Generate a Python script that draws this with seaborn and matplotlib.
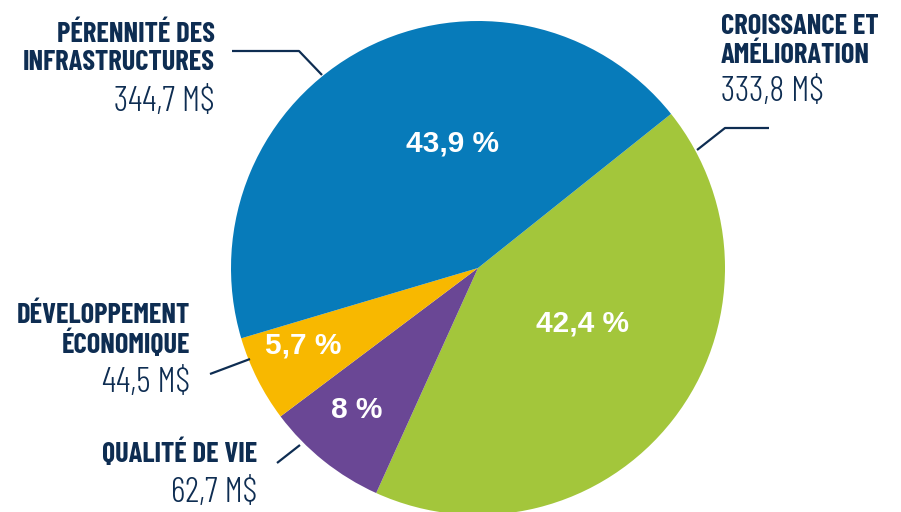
import numpy as np
import matplotlib
matplotlib.use("Agg")
import matplotlib.pyplot as plt
import seaborn as sns

# data (M$)
categories = ["Croissance et amélioration", "Qualité de vie",
              "Développement économique", "Pérennité des infrastructures"]
amounts = [333.8, 62.7, 44.5, 344.7]
pct_labels = ["42,4 %", "8 %", "5,7 %", "43,9 %"]
value_labels = ["333,8 M$", "62,7 M$", "44,5 M$", "344,7 M$"]
colors = ["#A3C63B", "#6A4795", "#F8B800", "#077BBA"]

navy = "#0E2D52"
sns.set_theme(style="white")
plt.rcParams["font.family"] = ["Barlow Condensed", "DejaVu Sans"]

W, H = 901, 512
CX, CY, R = 478, 268, 247

def px(x, y):
    # pixel position -> data coords (pie radius = 1)
    return (x - CX) / R, (CY - y) / R

fig = plt.figure(figsize=(W / 100, H / 100), dpi=100)
ax = fig.add_axes([0, 0, 1, 1])
ax.pie(amounts, colors=colors, startangle=38.6, counterclock=False,
       radius=1, wedgeprops=dict(linewidth=0))
ax.set_xlim(-CX / R, (W - CX) / R)
ax.set_ylim(-(H - CY) / R, CY / R)
ax.set_aspect("equal")
ax.axis("off")

# percentage labels inside the slices
pct_pos = [(583, 323), (357, 410), (303, 345), (452, 143)]
for lab, (x, y) in zip(pct_labels, pct_pos):
    ax.text(*px(x, y), lab, color="white", fontsize=21.5, fontweight="bold",
            ha="center", va="center", family=["Liberation Sans", "DejaVu Sans"])

# category labels
def label(lines, value, x, ys, ha):
    for line, y in zip(lines, ys[:-1]):
        ax.text(*px(x, y), line, color=navy, fontsize=20.5, fontweight="bold",
                ha=ha, va="baseline")
    ax.text(*px(x, ys[-1]), value, color=navy, fontsize=25.5, fontweight=300,
            ha=ha, va="baseline")

label(["PÉRENNITÉ DES", "INFRASTRUCTURES"], value_labels[3], 215, [42, 70, 111], "right")
label(["CROISSANCE ET", "AMÉLIORATION"], value_labels[0], 721, [34, 63, 101], "left")
label(["DÉVELOPPEMENT", "ÉCONOMIQUE"], value_labels[2], 190, [323, 353, 392], "right")
label(["QUALITÉ DE VIE"], value_labels[1], 257, [462, 502], "right")

# leader lines
leaders = [
    [(232, 51), (299, 51), (322, 75)],
    [(769, 128), (725, 128), (697, 150)],
    [(210, 374), (250, 359)],
    [(277, 463), (300, 445)],
]
for pts in leaders:
    xs, ys = zip(*[px(x, y) for x, y in pts])
    ax.plot(xs, ys, color=navy, linewidth=1.6, solid_capstyle="butt")

fig.savefig("out.png", dpi=100)
